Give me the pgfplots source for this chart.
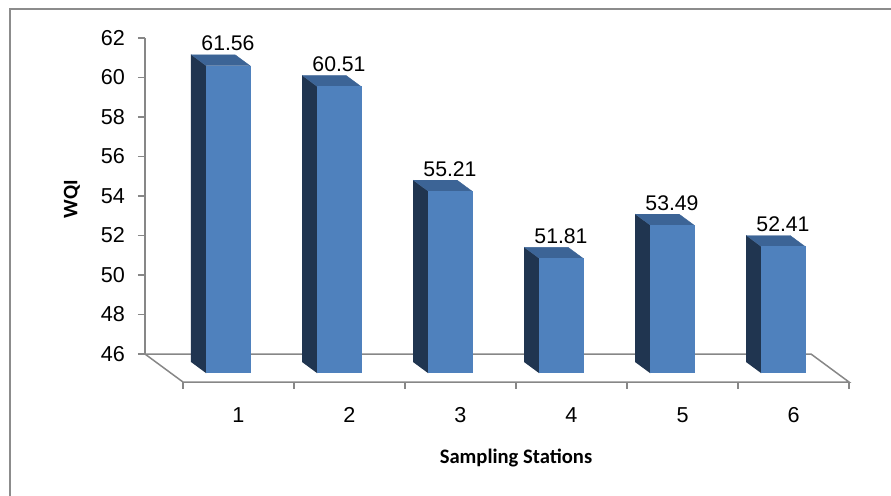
\documentclass[border=0pt]{standalone}
\usepackage{pgfplots}
\pgfplotsset{compat=1.18}
\usepackage{pgfplotstable}
\usepackage{fontspec}
\setmainfont{Liberation Sans}
\newfontfamily\calibri{Carlito}

\definecolor{barfront}{HTML}{4F81BD}
\definecolor{bartop}{HTML}{3C6496}
\definecolor{barside}{HTML}{203550}
\definecolor{axisgray}{HTML}{878787}
\definecolor{framegray}{HTML}{8C8C8C}

\pgfplotstableread{
x v
1 61.56
2 60.51
3 55.21
4 51.81
5 53.49
6 52.41
}\wqidata

\pgfplotstableread{
u d h
0 0 0
0 0 1
0 1 1
0 1 0
}\sideface
\pgfplotstableread{
u d h
0 0 1
1 0 1
1 1 1
0 1 1
}\topface
\pgfplotstableread{
u d h
0 1 0
0 1 1
1 1 1
1 1 0
}\frontface

% oblique projection of a bar: width along u, depth along d, height along h
\newcommand{\face}[4]{%
  \addplot[fill=#1, draw=#1, line width=0.2pt] table[
    x expr={#3-0.0837+0.396*\thisrow{u}+0.1335*\thisrow{d}},
    y expr={45.589+\thisrow{h}*(#4-46)-0.553*\thisrow{d}}] {#2};
}
\newcommand{\threedbar}[2]{%
  \face{barside}{\sideface}{#1}{#2}%
  \face{bartop}{\topface}{#1}{#2}%
  \face{barfront}{\frontface}{#1}{#2}%
}

\begin{document}
\begin{tikzpicture}
\begin{axis}[
  scale only axis, width=333pt, height=158pt,
  xmin=0.5, xmax=6.5, ymin=46, ymax=62,
  clip=false,
  axis y line=left, axis x line=bottom,
  axis line style={-},
  x axis line style={draw=none},
  y axis line style={draw=axisgray, line width=0.75pt},
  xtick={1,...,6},
  xticklabels={1,2,3,4,5,6},
  xtick style={draw=none},
  ytick={46,48,...,62},
  ytick style={draw=axisgray, line width=0.75pt},
  tick align=outside, major tick length=3.5pt,
  ticklabel style={font=\fontsize{10.8}{12}\selectfont},
  /pgf/number format/assume math mode=true,
  xticklabel style={anchor=base, xshift=19pt, yshift=-30.5pt},
  yticklabel style={xshift=-3.0pt},
  xlabel={Sampling Stations},
  ylabel={WQI},
  xlabel style={at={(axis description cs:0.557,-0.329)}, anchor=center,
    font=\calibri\bfseries\fontsize{10.3}{12}\selectfont},
  ylabel style={at={(axis description cs:-0.1096,0.4905)}, anchor=center,
    font=\calibri\bfseries\fontsize{10.3}{12}\selectfont},
]
% floor
\addplot[axisgray, line width=0.75pt] coordinates {(6.5,46) (0.5,46) (0.8423,44.5823) (6.8423,44.5823) (6.5,46)};
\addplot[axisgray, line width=0.75pt] coordinates {(0.8423,44.5823) (0.8423,44.228)};
\addplot[axisgray, line width=0.75pt] coordinates {(1.8423,44.5823) (1.8423,44.228)};
\addplot[axisgray, line width=0.75pt] coordinates {(2.8423,44.5823) (2.8423,44.228)};
\addplot[axisgray, line width=0.75pt] coordinates {(3.8423,44.5823) (3.8423,44.228)};
\addplot[axisgray, line width=0.75pt] coordinates {(4.8423,44.5823) (4.8423,44.228)};
\addplot[axisgray, line width=0.75pt] coordinates {(5.8423,44.5823) (5.8423,44.228)};
\addplot[axisgray, line width=0.75pt] coordinates {(6.8423,44.5823) (6.8423,44.228)};
% bars
\threedbar{1}{61.56}
\threedbar{2}{60.51}
\threedbar{3}{55.21}
\threedbar{4}{51.81}
\threedbar{5}{53.49}
\threedbar{6}{52.41}
% data labels
\addplot[draw=none, mark=none, nodes near coords, point meta=explicit symbolic,
  nodes near coords style={anchor=base, yshift=2pt, inner sep=0pt,
    font=\fontsize{10.6}{12}\selectfont}]
  table[x expr=\thisrow{x}+0.2478, y expr=\thisrow{v}-0.411, meta=v] {\wqidata};
\coordinate (bbA) at (rel axis cs:-0.2177,1.1203);
\coordinate (bbB) at (rel axis cs:1.1201,-0.4462);
\coordinate (frA) at (rel axis cs:-0.2027,1.0918);
\coordinate (frB) at (rel axis cs:1.2,-0.6);
\end{axis}
\draw[framegray, line width=1pt] (frA) rectangle (frB);
\pgfresetboundingbox
\path[use as bounding box] (bbA) rectangle (bbB);
\end{tikzpicture}
\end{document}
